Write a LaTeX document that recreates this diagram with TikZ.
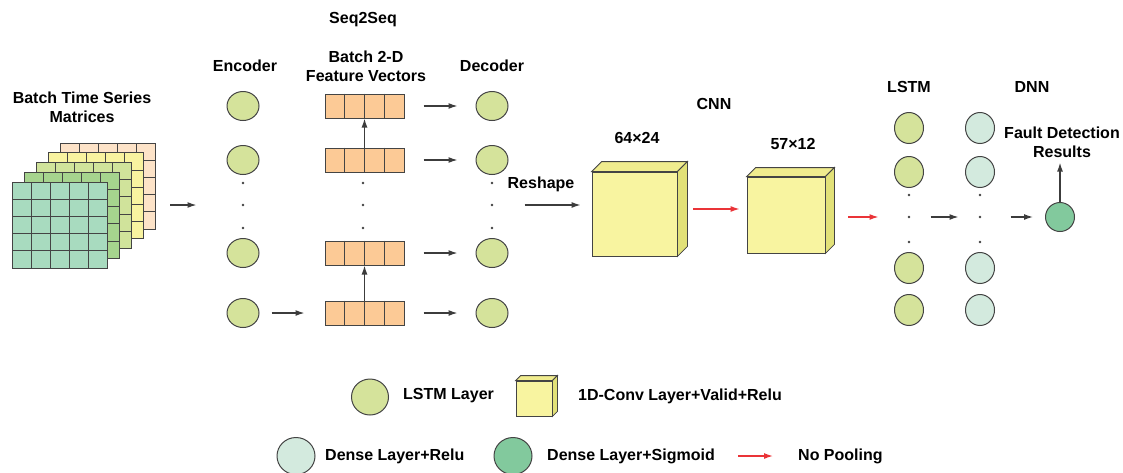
\documentclass[tikz,border=0pt]{standalone}
\usepackage{fontspec}
\setmainfont{Liberation Sans}
\usetikzlibrary{shapes.geometric,arrows.meta,calc}

\definecolor{linec}{RGB}{68,68,68}
\definecolor{arrowc}{RGB}{60,60,60}
\definecolor{redc}{RGB}{234,52,56}
\definecolor{lstmc}{RGB}{213,227,155}
\definecolor{densec}{RGB}{211,234,222}
\definecolor{sigmc}{RGB}{130,201,157}
\definecolor{fvc}{RGB}{252,202,150}
\definecolor{cubef}{RGB}{248,244,160}
\definecolor{cubet}{RGB}{240,236,142}
\definecolor{cubes}{RGB}{226,225,120}
\definecolor{matA}{RGB}{168,219,191}
\definecolor{matB}{RGB}{166,212,142}
\definecolor{matC}{RGB}{208,227,155}
\definecolor{matD}{RGB}{248,243,160}
\definecolor{matE}{RGB}{253,227,200}

\tikzset{
    lbl/.style={font=\bfseries\fontsize{16}{19}\selectfont, align=center, inner sep=1pt},
    unit/.style={ellipse, draw=linec, line width=1pt, minimum width=32pt, minimum height=29pt, inner sep=0pt},
    lstm/.style={unit, fill=lstmc},
    dense/.style={unit, fill=densec},
    sigm/.style={unit, fill=sigmc},
    dot/.style={circle, fill=black!75, inner sep=0pt, minimum size=2.6pt},
    fvec/.style={draw=linec, line width=1pt, fill=fvc, minimum width=79pt, minimum height=24pt, inner sep=0pt},
    face/.style={draw=linec, line width=0.8pt, fill=cubef, inner sep=0pt},
    arr/.style={draw=arrowc, line width=1.3pt, -{Latex[length=9pt,width=6pt]}},
    redarr/.style={arr, draw=redc}
}

% top and side faces of a cube: #1 front face node, #2 depth
\newcommand{\cubefaces}[2]{%
    \filldraw[draw=linec, line width=0.8pt, fill=cubet] (#1.north west) -- ++(#2,-#2)
        -- ($(#1.north east)+(#2,-#2)$) -- (#1.north east) -- cycle;
    \filldraw[draw=linec, line width=0.8pt, fill=cubes] (#1.north east) -- ++(#2,-#2)
        -- ($(#1.south east)+(#2,-#2)$) -- (#1.south east) -- cycle;
}

\begin{document}
\begin{tikzpicture}[x=1pt, y=-1pt]
    \useasboundingbox (0,0) rectangle (1123,472);

    % Input matrices (back to front)
    \node[lbl] (inlbl) at (82,107) {Batch Time Series\\Matrices};
    \foreach \i/\col in {0/matE, 1/matD, 2/matC, 3/matB, 4/matA} {
        \pgfmathsetmacro\ox{60-12*\i}
        \pgfmathsetmacro\oy{143+9.75*\i}
        \filldraw[draw=linec, line width=0.9pt, fill=\col] (\ox,\oy) rectangle ++(95,86);
        \foreach \k in {1,...,4} {
            \draw[linec, line width=0.9pt] (\ox+19*\k,\oy) -- ++(0,86);
            \draw[linec, line width=0.9pt] (\ox,\oy+17.2*\k) -- ++(95,0);
        }
    }
    \node[inner sep=0pt, minimum width=145pt, minimum height=125pt] (stack) at (84.5,205.5) {};

    % Seq2Seq
    \node[lbl] (s2s) at (363,20) {Seq2Seq};
    \node[lbl] (enclbl) at (245,66) {Encoder};
    \node[lbl] (fvlbl) at (366,66) {Batch 2-D\\Feature Vectors};
    \node[lbl] (declbl) at (492,66) {Decoder};

    \foreach \y [count=\i] in {106,160,253,313} {
        \node[lstm] (enc\i) at (243,\y) {};
        \node[fvec] (fv\i) at (364.5,\y) {};
        \node[lstm] (dec\i) at (492,\y) {};
        \foreach \k in {1,2,3}
            \draw[linec, line width=1pt] ($(fv\i.north west)!\k/4!(fv\i.north east)$)
                -- ($(fv\i.south west)!\k/4!(fv\i.south east)$);
        \draw[arr, shorten <=19pt, shorten >=18pt] (fv\i) -- (dec\i);
    }
    \foreach \y [count=\i] in {183,205,228} {
        \node[dot] (encd\i) at (243,\y) {};
        \node[dot] (fvd\i) at (363,\y) {};
        \node[dot] (decd\i) at (492,\y) {};
    }
    \draw[arr] (fv2.north) -- (fv1.south);
    \draw[arr] (fv4.north) -- (fv3.south);
    \draw[arr, shorten <=12pt, shorten >=20pt] (enc4) -- (fv4);
    \draw[arr, shorten <=13pt, shorten >=45pt] (stack.east |- encd2) -- (encd2);

    % CNN
    \node[lbl] (cnnlbl) at (714,104) {CNN};
    \node[lbl] (reshape) at (541,184) {Reshape};
    \node[face, minimum width=85pt, minimum height=84pt] (cnnA) at (634.5,214) {};
    \cubefaces{cnnA}{10}
    \node[lbl] (dimA) at (637,138) {64×24};
    \node[face, minimum width=78pt, minimum height=76pt] (cnnB) at (786,215) {};
    \cubefaces{cnnB}{9}
    \node[lbl] (dimB) at (793,144) {57×12};
    \draw[arr, shorten <=31pt, shorten >=11pt] (decd2) -- (cnnA.west |- decd2);
    \draw[redarr, shorten <=16pt, shorten >=7pt] (cnnA.east |- 0,209) -- (cnnB.west |- 0,209);

    % LSTM and DNN
    \node[lbl] (lstmlbl) at (909,87) {LSTM};
    \node[lbl] (dnnlbl) at (1032,87) {DNN};
    \foreach \y [count=\i] in {128,172,268,310} {
        \node[lstm, minimum width=29pt, minimum height=31pt] (lstm\i) at (909,\y) {};
        \node[dense, minimum width=29pt, minimum height=31pt] (dnn\i) at (980,\y) {};
    }
    \foreach \y [count=\i] in {195,217,242} {
        \node[dot] (lstmd\i) at (909,\y) {};
        \node[dot] (dnnd\i) at (980,\y) {};
    }
    \node[sigm, minimum width=29pt, minimum height=29pt] (out) at (1060,217) {};
    \node[lbl] (result) at (1062,142) {Fault Detection\\Results};
    \draw[redarr, shorten <=23pt, shorten >=29pt] (cnnB.east |- lstmd2) -- (lstmd2);
    \draw[arr, shorten <=20pt, shorten >=20pt] (lstmd2) -- (dnnd2);
    \draw[arr, shorten <=29pt, shorten >=12pt] (dnnd2) -- (out);
    \draw[arr, shorten >=4pt] (out) -- (out |- result.south);

    % Legend
    \node[lstm, minimum width=37pt, minimum height=36pt] (lgA) at (370,397) {};
    \node[lbl, anchor=west] (lgAt) at (402,396) {LSTM Layer};
    \node[face, minimum width=36pt, minimum height=35pt] (lgB) at (534,398.5) {};
    \cubefaces{lgB}{5}
    \node[lbl, anchor=west] (lgBt) at (577,396) {1D-Conv Layer+Valid+Relu};
    \node[dense, minimum width=38pt, minimum height=37pt] (lgC) at (296,456) {};
    \node[lbl, anchor=west] (lgCt) at (324,456) {Dense Layer+Relu};
    \node[sigm, minimum width=38pt, minimum height=37pt] (lgD) at (513,456) {};
    \node[lbl, anchor=west] (lgDt) at (546,456) {Dense Layer+Sigmoid};
    \node[lbl, anchor=west] (lgEt) at (797,456) {No Pooling};
    \coordinate (lgE) at (738,456);
    \draw[redarr, shorten >=24pt] (lgE) -- (lgEt.west);
\end{tikzpicture}
\end{document}
